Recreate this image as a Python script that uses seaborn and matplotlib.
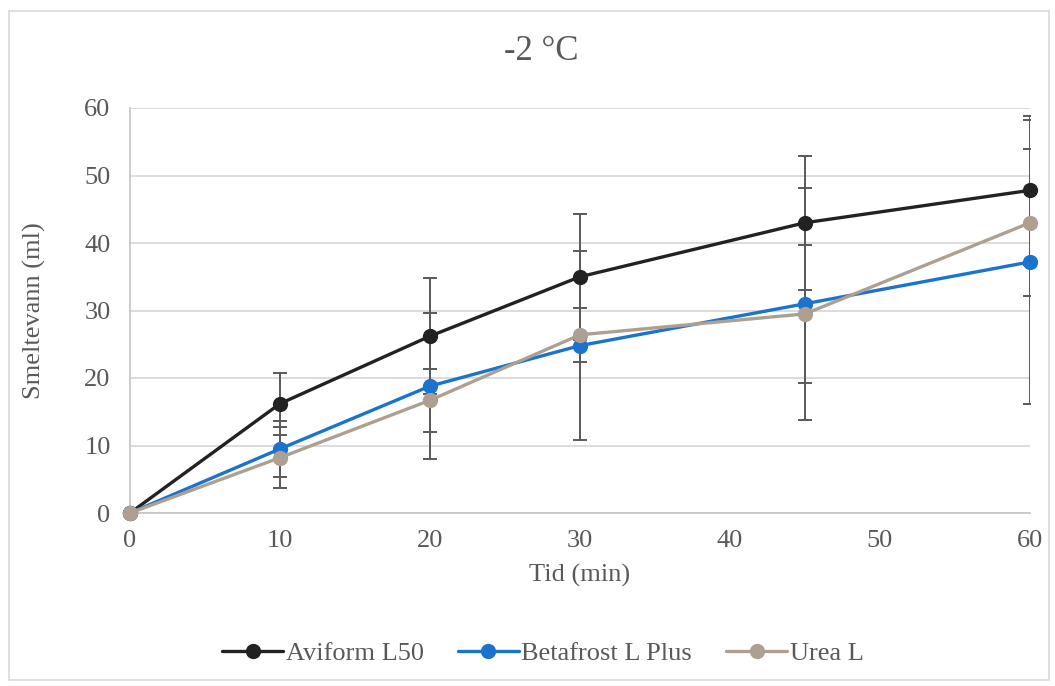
import numpy as np
import pandas as pd
import matplotlib
matplotlib.use("Agg")
import matplotlib.pyplot as plt
import seaborn as sns
from matplotlib.patches import Rectangle

# ---- data ----
time_min = [0, 10, 20, 30, 45, 60]
series_names = ["Aviform L50", "Betafrost L Plus", "Urea L"]
aviform = [0, 16.2, 26.2, 35.0, 43.0, 47.8]
aviform_err = [0, 4.6, 8.6, 9.3, 9.9, 11.0]
betafrost = [0, 9.5, 18.8, 24.8, 31.0, 37.2]
betafrost_err = [0, 4.1, 10.8, 14.0, 17.2, 21.0]
urea = [0, 8.2, 16.7, 26.4, 29.5, 43.0]
urea_err = [0, 4.5, 4.7, 4.0, 10.2, 10.9]
colors = ["#222222", "#1B73CE", "#ADA090"]
x_ticks = [0, 10, 20, 30, 40, 50, 60]
y_ticks = [0, 10, 20, 30, 40, 50, 60]

values = [aviform, betafrost, urea]
errs = [aviform_err, betafrost_err, urea_err]

df = pd.DataFrame({
    "Tid": time_min * 3,
    "Smeltevann": aviform + betafrost + urea,
    "Serie": sum([[n] * len(time_min) for n in series_names], []),
})

sns.set_theme(style="white")
plt.rcParams["font.family"] = ["Liberation Serif", "DejaVu Serif"]
text_color = "#595959"

fig = plt.figure(figsize=(10.55, 6.86), dpi=100)
ax = fig.add_axes([130 / 1055, 1 - 513 / 686, 900 / 1055, 405 / 686])

# error bars (behind markers)
for v, e in zip(values, errs):
    ax.errorbar(time_min, v, yerr=e, fmt="none", ecolor="#595959",
                elinewidth=1.4, capsize=5, capthick=1.4, zorder=2)

sns.lineplot(data=df, x="Tid", y="Smeltevann", hue="Serie",
             hue_order=series_names, palette=colors, marker="o",
             markersize=11, markeredgewidth=0, linewidth=2.4,
             ax=ax, zorder=3, legend=True, clip_on=False)

ax.set_xlim(0, 60)
ax.set_ylim(0, 60)
ax.set_xticks(x_ticks)
ax.set_yticks(y_ticks)
ax.yaxis.grid(True, color="#D9D9D9", linewidth=1.3)
ax.xaxis.grid(False)
for s in ["top", "right"]:
    ax.spines[s].set_visible(False)
for s in ["left", "bottom"]:
    ax.spines[s].set_color("#C8C8C8")
    ax.spines[s].set_linewidth(1.3)
ax.tick_params(axis="both", length=0, labelsize=19, labelcolor=text_color)
ax.tick_params(axis="y", pad=14)
ax.tick_params(axis="x", pad=12)

ax.set_xlabel("Tid (min)", fontsize=19, color=text_color)
ax.set_ylabel("Smeltevann (ml)", fontsize=19, color=text_color)
ax.xaxis.set_label_coords(0.5, -0.125)
ax.yaxis.set_label_coords(-0.093, 0.5)

fig.text(541 / 1055, 1 - 52 / 686, "-2 \u00b0C", ha="center", va="center",
         fontsize=25, color=text_color)

handles, labels = ax.get_legend_handles_labels()
ax.legend(handles, labels, loc="center", bbox_to_anchor=(543 / 1055, 1 - 653 / 686),
          bbox_transform=fig.transFigure, ncol=3, frameon=False,
          fontsize=19, handlelength=2.3, columnspacing=1.3, handletextpad=0.1,
          labelcolor=text_color)

fig.patches.append(Rectangle((9 / 1055, 6 / 686), 1040 / 1055, 669 / 686,
                             transform=fig.transFigure, fill=False,
                             edgecolor="#D9D9D9", linewidth=1.2))

fig.savefig("out.png", dpi=100)
